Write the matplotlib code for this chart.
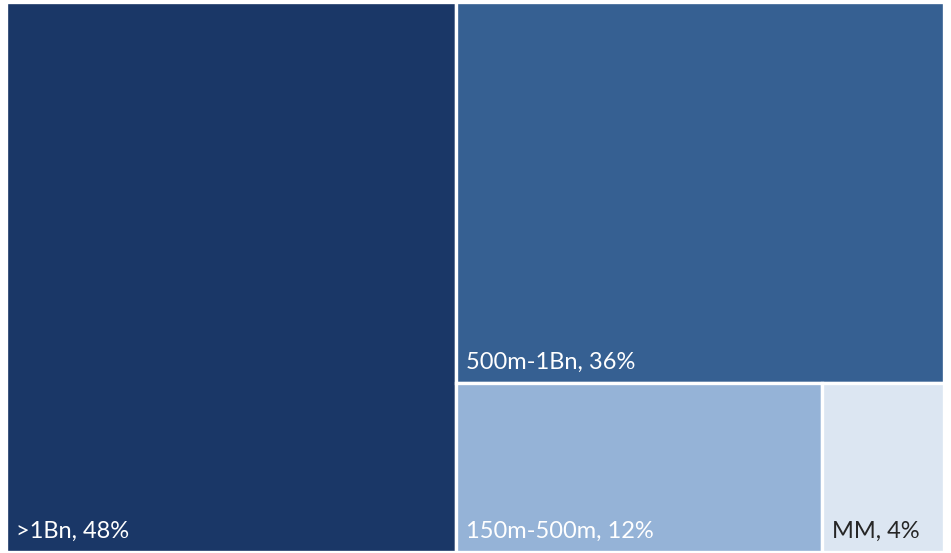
import matplotlib
matplotlib.use('Agg')
import matplotlib.pyplot as plt
from matplotlib.patches import Rectangle

labels = ['>1Bn', '500m-1Bn', '150m-500m', 'MM']
shares = [48, 36, 12, 4]
colors = ['#1A3767', '#366092', '#95B3D7', '#DCE6F2']
text_colors = ['white', 'white', 'white', '#262626']

W, H = 951, 553
fig = plt.figure(figsize=(W / 100, H / 100), dpi=100)
# plotting area in pixel units (y measured from top)
x0, x1, y0, y1 = 6, 944, 2, 552
ax = fig.add_axes([x0 / W, 1 - y1 / H, (x1 - x0) / W, (y1 - y0) / H])
ax.set_xlim(0, 1); ax.set_ylim(0, 1); ax.axis('off')

# slice-and-dice: first item takes a full-height column, next item a full-width
# band on top of the rest, remaining items share the bottom row
total = sum(shares)
w0 = shares[0] / total
rest = total - shares[0]
h1 = shares[1] / rest
bottom = shares[2] + shares[3]
rects = [
    (0, 0, w0, 1),
    (w0, 1 - h1, 1 - w0, h1),
    (w0, 0, (1 - w0) * shares[2] / bottom, 1 - h1),
    (w0 + (1 - w0) * shares[2] / bottom, 0, (1 - w0) * shares[3] / bottom, 1 - h1),
]

for (x, y, w, h), lab, v, c, tc in zip(rects, labels, shares, colors, text_colors):
    ax.add_patch(Rectangle((x, y), w, h, facecolor=c, edgecolor='white', lw=2.4))
    ax.text(x + 10 / (x1 - x0), y + 14 / (y1 - y0), f'{lab}, {v}%', color=tc,
            fontsize=17, family=['Lato', 'DejaVu Sans'], ha='left', va='baseline')

fig.savefig('out.png', dpi=100)
